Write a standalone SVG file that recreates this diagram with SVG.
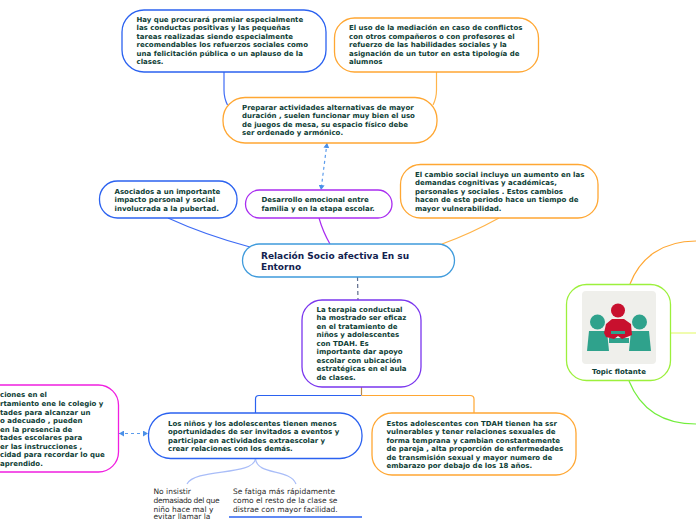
<svg xmlns="http://www.w3.org/2000/svg" width="696" height="520" viewBox="0 0 696 520">
<style>
text{font-family:"DejaVu Sans",Verdana,sans-serif;font-size:7px;font-weight:bold;fill:#0e4036;transform:translateY(-.6px)}
.n{fill:#fff;stroke-width:1.3}
.c{fill:none;stroke-width:1.2}
.blue{stroke:#2b62f0}.orange{stroke:#ffa733}.purple{stroke:#a92df0}.violet{stroke:#7a36ee}.pink{stroke:#f01fe0}
text.plain{font-weight:normal;fill:#2a2a2a;font-size:7.5px;transform:none}
text.title{font-size:9px;fill:#12224f}
</style>
<defs>
<marker id="a" markerWidth="6" markerHeight="6" refX="5" refY="3" orient="auto-start-reverse" markerUnits="userSpaceOnUse"><path d="M0 0L5 3L0 6Z" fill="#4a90e8"/></marker>
</defs>
<g id="connectors">
<path class="c" stroke="#3f6cf5" d="M224 72V90Q224 98 227.5 105"/>
<path class="c" stroke="#ffb44a" d="M436.5 72V90Q436.5 98 433 105"/>
<path class="c" stroke="#5c9cec" stroke-dasharray="3 3" marker-start="url(#a)" marker-end="url(#a)" d="M327 143L321 190"/>
<path class="c" stroke="#3f6cf5" d="M168 218Q205 235 250 247"/>
<path class="c" stroke="#a92df0" d="M319 218Q323 232 330 244"/>
<path class="c" stroke="#ffb44a" d="M499 218Q470 234 442 244"/>
<path class="c" stroke="#5d6b8c" stroke-dasharray="4 3" d="M357.5 277L358 300"/>
<path class="c" stroke="#b98a4a" d="M361.5 387V395"/>
<path class="c" stroke="#2b62f0" d="M361.5 395.5H259Q255.5 395.5 255.5 399V413"/>
<path class="c" stroke="#ffa733" d="M361.5 395.5H470Q474 395.5 474 399V413"/>
<path class="c" stroke="#5c9cec" stroke-dasharray="3 3" marker-start="url(#a)" marker-end="url(#a)" d="M119 433.5H148"/>
<path class="c" stroke="#a9bdf8" d="M255.5 458.5C254 476 195 468 187 484"/>
<path class="c" stroke="#a9bdf8" d="M255.5 458.5C257 476 290 468 296 484"/>
<path class="c" stroke="#ffa733" d="M630 284C640 258 662 241 696 241"/>
<path class="c" stroke="#e6fb7a" stroke-width="1.5" d="M671 333H696"/>
<path class="c" stroke="#72ee3c" d="M629 381C640 408 662 424 696 424"/>
</g>
<g id="node-premiar"><rect class="n blue" x="122" y="10" width="204" height="62" rx="22"/>
<text x="136.5" y="22.5">Hay que procurará premiar especialmente</text><text x="136.5" y="31">las conductas positivas y las pequeñas</text><text x="136.5" y="39.5">tareas realizadas siendo especialmente</text><text x="136.5" y="48">recomendables los refuerzos sociales como</text><text x="136.5" y="56.5">una felicitación pública o un aplauso de la</text><text x="136.5" y="65">clases.</text></g>
<g id="node-mediacion"><rect class="n orange" x="334.5" y="18" width="204" height="54" rx="20"/>
<text x="349" y="31">El uso de la mediación en caso de conflictos</text><text x="349" y="39.5">con otros compañeros o con profesores el</text><text x="349" y="48">refuerzo de las habilidades sociales y la</text><text x="349" y="56.5">asignación de un  tutor en esta tipología de</text><text x="349" y="65">alumnos</text></g>
<g id="node-preparar"><rect class="n orange" x="223" y="97.5" width="214" height="45.5" rx="22"/>
<text x="242" y="110.5">Preparar actividades alternativas de mayor</text><text x="242" y="119">duración , suelen funcionar muy bien el uso</text><text x="242" y="127.5">de juegos de mesa, su espacio físico debe</text><text x="242" y="136">ser ordenado y armónico.</text></g>
<g id="node-asociados"><rect class="n blue" x="99.5" y="181" width="137.5" height="37" rx="18"/>
<text x="114.5" y="194.5">Asociados a un importante</text><text x="114.5" y="203">impacto personal y social</text><text x="114.5" y="211.5">involucrada a la pubertad.</text></g>
<g id="node-desarrollo"><rect class="n purple" x="245.5" y="190" width="146.5" height="28" rx="14"/>
<text x="261.5" y="203">Desarrollo emocional entre</text><text x="261.5" y="211.5">familia y en la etapa escolar.</text></g>
<g id="node-cambio"><rect class="n orange" x="400.5" y="164.5" width="197.5" height="53.5" rx="20"/>
<text x="415" y="177.5">El cambio social incluye un aumento en las</text><text x="415" y="186">demandas cognitivas y académicas,</text><text x="415" y="194.5">personales y sociales . Estos cambios</text><text x="415" y="203">hacen de este periodo hace un tiempo de</text><text x="415" y="211.5">mayor vulnerabilidad.</text></g>
<g id="node-central"><rect class="n" stroke="#3f9bdc" x="242.5" y="244" width="212" height="33" rx="16.5"/>
<text class="title" x="261" y="259.5">Relación Socio afectiva En su</text><text class="title" x="261" y="270.5">Entorno</text></g>
<g id="node-terapia"><rect class="n violet" x="302" y="300" width="119" height="87" rx="20"/>
<text x="316.5" y="312.5">La terapia conductual</text><text x="316.5" y="321">ha mostrado ser eficaz</text><text x="316.5" y="329.5">en el tratamiento de</text><text x="316.5" y="338">niños y adolescentes</text><text x="316.5" y="346.5">con TDAH. Es</text><text x="316.5" y="355">importante dar apoyo</text><text x="316.5" y="363.5">escolar con ubicación</text><text x="316.5" y="372">estratégicas en el aula</text><text x="316.5" y="380.5">de clases.</text></g>
<g id="node-dificultades"><rect class="n pink" x="-100" y="385" width="218.5" height="87" rx="20"/>
<text x="0" y="398">ciones en el</text><text x="0" y="407">rtamiento ene le colegio y</text><text x="0" y="415.5">tades para alcanzar un</text><text x="0" y="424">o adecuado , pueden</text><text x="0" y="432.5">en la presencia de</text><text x="0" y="441">tades escolares para</text><text x="0" y="449.5">er las instrucciones ,</text><text x="0" y="458">cidad para recordar lo que</text><text x="0" y="466.5">aprendido.</text></g>
<g id="node-ninos"><rect class="n blue" x="148.5" y="413" width="213.5" height="45.5" rx="22"/>
<text x="168" y="426.5">Los niños y los adolescentes tienen menos</text><text x="168" y="435">oportunidades de ser invitados a eventos y</text><text x="168" y="443.5">participar en actividades extraescolar y</text><text x="168" y="452">crear relaciones con los demás.</text></g>
<g id="node-estos"><rect class="n orange" x="372" y="413" width="204" height="62" rx="20"/>
<text x="386.5" y="426.5">Estos adolescentes con TDAH tienen ha ssr</text><text x="386.5" y="435">vulnerables y tener relaciones sexuales de</text><text x="386.5" y="443.5">forma temprana y cambian constantemente</text><text x="386.5" y="452">de pareja , alta proporción de enfermedades</text><text x="386.5" y="460.5">de transmisión sexual y mayor numero de</text><text x="386.5" y="469">embarazo por debajo de los 18 años.</text></g>
<g id="node-insistir">
<text class="plain" x="153.5" y="494">No insistir</text><text class="plain" x="153.5" y="503" textLength="66">demasiado del que</text><text class="plain" x="153.5" y="511.5">niño hace mal y</text><text class="plain" x="153.5" y="519">evitar llamar la</text></g>
<g id="node-fatiga">
<text class="plain" x="233" y="494" textLength="102">Se fatiga más rápidamente</text><text class="plain" x="233" y="503">como el resto de la clase se</text><text class="plain" x="233" y="512">distrae con mayor facilidad.</text>
<path d="M229 517H362" stroke="#2b62f0" stroke-width="1.6" fill="none"/></g>
<g id="node-flotante"><rect class="n" stroke="#9cf03c" x="566.5" y="284.5" width="104" height="96" rx="20"/>
<rect x="582" y="291" width="74" height="73" rx="4" fill="#efefeb"/>
<circle cx="597.5" cy="322" r="7.5" fill="#2fa28c"/><circle cx="639.5" cy="322" r="7.5" fill="#2fa28c"/>
<path d="M589 331H607L609 351H587Z" fill="#2fa28c"/><path d="M631 331H649L651 351H629Z" fill="#2fa28c"/>
<rect x="609" y="338" width="20" height="5" fill="#2fa28c"/>
<circle cx="618" cy="310.5" r="7" fill="#c8102e"/>
<path d="M612 319H624L631 324L632 335L622 339L618 336L614 339L606 337L604 333L606 324Z" fill="#c8102e"/>
<path d="M611 331H625V334H611Z" fill="#2fa28c"/>
<text x="619" y="374.5" text-anchor="middle">Topic flotante</text></g>
</svg>
